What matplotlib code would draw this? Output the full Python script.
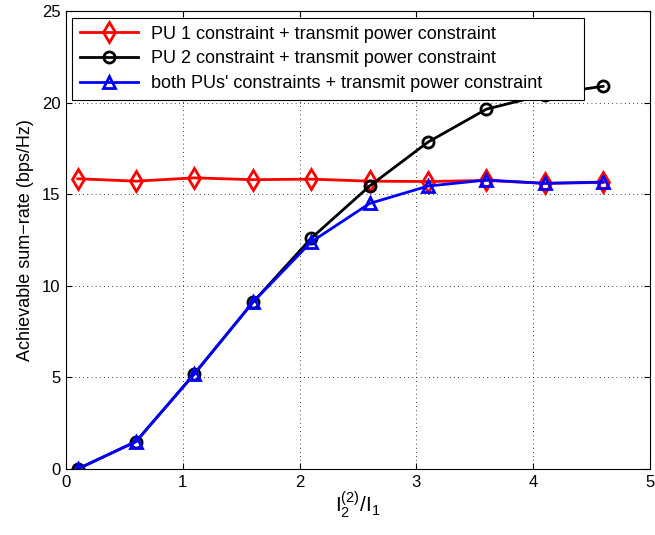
import matplotlib
matplotlib.use('Agg')
import matplotlib.pyplot as plt

plt.rcParams['font.family'] = ['Liberation Sans', 'DejaVu Sans']
plt.rcParams['mathtext.fontset'] = 'custom'
plt.rcParams['mathtext.rm'] = 'Liberation Sans'
plt.rcParams['mathtext.it'] = 'Liberation Sans'

# interference threshold ratio I2^(2)/I1
ratio = [0.1, 0.6, 1.1, 1.6, 2.1, 2.6, 3.1, 3.6, 4.1, 4.6]

# achievable sum-rate (bps/Hz) under each set of constraints
rate_pu1 = [15.85, 15.72, 15.9, 15.8, 15.83, 15.72, 15.7, 15.76, 15.6, 15.65]
rate_pu2 = [0.0, 1.5, 5.2, 9.1, 12.6, 15.45, 17.85, 19.65, 20.45, 20.9]
rate_both = [0.0, 1.5, 5.2, 9.1, 12.4, 14.5, 15.45, 15.78, 15.6, 15.67]

labels = ['PU 1 constraint + transmit power constraint',
          'PU 2 constraint + transmit power constraint',
          "both PUs' constraints + transmit power constraint"]

fig = plt.figure(figsize=(6.55, 5.35), dpi=100)
ax = fig.add_axes([0.1008, 0.1234, 0.8912, 0.8556])

ax.plot(ratio, rate_pu1, color='r', lw=2, marker='d', ms=10, mfc='none', mew=2, label=labels[0])
ax.plot(ratio, rate_pu2, color='k', lw=2, marker='o', ms=8, mfc='none', mew=2, label=labels[1])
ax.plot(ratio, rate_both, color='b', lw=2, marker='^', ms=9, mfc='none', mew=2, label=labels[2])

ax.set_xlim(0, 5)
ax.set_ylim(0, 25)
ax.set_xticks(range(0, 6))
ax.set_yticks(range(0, 26, 5))
ax.grid(True, color='k', linestyle=(0, (1, 4)), linewidth=0.6)
ax.tick_params(direction='in', top=True, right=True, labelsize=12, length=4, pad=4)
for sp in ax.spines.values():
    sp.set_linewidth(0.8)

ax.set_xlabel(r'$\mathregular{I_2^{(2)}/I_1}$', fontsize=15, labelpad=0)
ax.set_ylabel('Achievable sum\u2212rate (bps/Hz)', fontsize=13, labelpad=6)

# wide legend box with empty space on the right, drawn over the curves
leg = ax.legend(loc='upper left', bbox_to_anchor=(0, 0, 0.899, 1), mode='expand',
                fontsize=13, frameon=True, fancybox=False,
                framealpha=1, edgecolor='k', handlelength=3.2, handletextpad=0.7,
                borderpad=0.45, labelspacing=0.42, borderaxespad=0.35)
leg.get_frame().set_linewidth(0.8)

fig.savefig('out.png', dpi=100)
